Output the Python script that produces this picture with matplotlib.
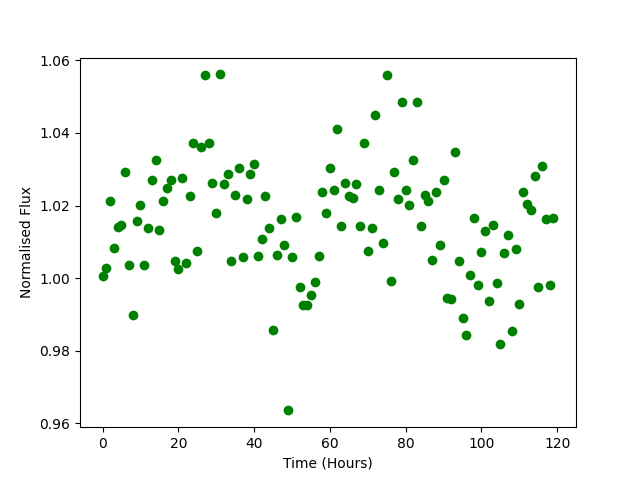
import matplotlib
matplotlib.use("Agg")
import matplotlib.pyplot as plt

hours = list(range(120))

flux = [
    1.0007, 1.0029, 1.0212, 1.0084, 1.0142, 1.0146, 1.0293, 1.0035, 0.9898, 1.0157,
    1.0202, 1.0037, 1.0137, 1.0269, 1.0326, 1.0134, 1.0213, 1.0247, 1.0269, 1.0048,
    1.0026, 1.0277, 1.0043, 1.0225, 1.0373, 1.0076, 1.0360, 1.0558, 1.0373, 1.0263,
    1.0180, 1.0561, 1.0258, 1.0288, 1.0048, 1.0230, 1.0304, 1.0057, 1.0219, 1.0288,
    1.0313, 1.0062, 1.0107, 1.0225, 1.0139, 0.9858, 1.0065, 1.0162, 1.0090, 0.9636,
    1.0057, 1.0169, 0.9977, 0.9925, 0.9925, 0.9955, 0.9990, 1.0060, 1.0236, 1.0180,
    1.0302, 1.0242, 1.0412, 1.0145, 1.0263, 1.0225, 1.0222, 1.0258, 1.0145, 1.0373,
    1.0076, 1.0139, 1.0448, 1.0244, 1.0098, 1.0558, 0.9993, 1.0293, 1.0219, 1.0484,
    1.0244, 1.0202, 1.0324, 1.0486, 1.0145, 1.0228, 1.0213, 1.0051, 1.0238, 1.0090,
    1.0271, 0.9946, 0.9943, 1.0348, 1.0048, 0.9891, 0.9844, 1.0010, 1.0167, 0.9982,
    1.0073, 1.0131, 0.9938, 1.0147, 0.9988, 0.9820, 1.0070, 1.0120, 0.9855, 1.0079,
    0.9930, 1.0238, 1.0205, 1.0189, 1.0282, 0.9977, 1.0310, 1.0164, 0.9982, 1.0167,
]

plt.figure(figsize=(6.4, 4.8), dpi=100)
plt.plot(hours, flux, 'go')
plt.xlabel("Time (Hours)")
plt.ylabel("Normalised Flux")
plt.savefig("out.png")
